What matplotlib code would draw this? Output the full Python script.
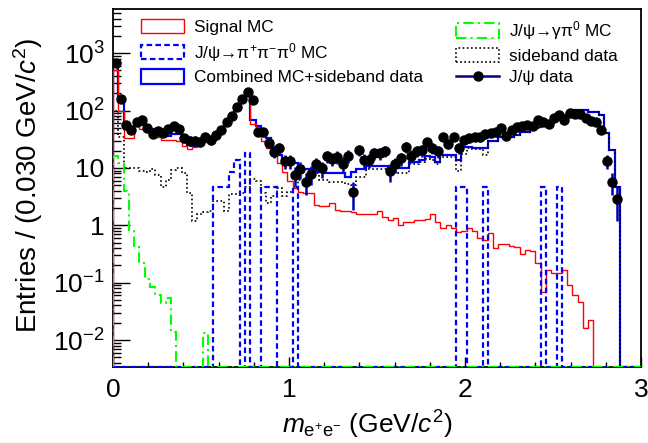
import numpy as np
import matplotlib
matplotlib.use('Agg')
import matplotlib.pyplot as plt
from matplotlib.patches import Patch
from matplotlib.lines import Line2D
from matplotlib.ticker import FixedLocator, FixedFormatter, LogLocator, MultipleLocator, NullFormatter

plt.rcParams['font.family'] = ['Liberation Sans', 'DejaVu Sans']
plt.rcParams['mathtext.fontset'] = 'custom'
plt.rcParams['mathtext.rm'] = 'Liberation Sans'
plt.rcParams['mathtext.it'] = 'Liberation Sans:italic'
plt.rcParams['mathtext.bf'] = 'Liberation Sans:bold'

# 100 bins of 0.030 GeV/c^2 from 0 to 3
edges = np.linspace(0.0, 3.0, 101)
centers = 0.5 * (edges[1:] + edges[:-1])

# J/psi data (bins 0..95)
data = [680, 158, 55, 46, 64, 68, 49, 39, 44, 41,
        47, 53, 47, 33, 30, 30, 28.5, 34, 30.5, 37,
        45, 63, 80, 116, 156, 212, 152, 42, 43, 27,
        19, 22, 13, 13, 7.5, 9.6, 5.7, 7.8, 11.5, 9.8,
        16, 14.5, 15.8, 11.8, 16.4, 3.8, 20.5, 13.5, 13.5, 17.9,
        18, 20, 8.7, 11.6, 14.6, 23.3, 16.2, 19.8, 20.2, 28.5,
        22.5, 19.5, 35, 26.5, 35, 22.5, 30.5, 33.5, 35, 34,
        39, 41, 42.6, 49, 36.5, 45, 52, 53, 55, 54,
        68, 64, 59, 73, 85, 68, 90, 87, 88, 73,
        67, 63, 45.5, 13, 5.7, 2.9]

signal_mc = [500, 100, 33, 33, 53, 47, 45, 40, 34, 31,
             30.5, 30.5, 29.5, 24, 21, 22.7, 25, 28.5, 30.5, 35,
             42, 55, 75, 105, 150, 205, 58, 40, 30, 22,
             17, 12, 8.5, 6, 4.5, 3.8, 3.7, 3.6, 2.3, 2.2,
             2.2, 2.4, 1.85, 1.75, 1.75, 1.7, 1.6, 1.55, 1.6, 1.55,
             1.75, 1.42, 1.26, 1.35, 1.0, 1.15, 1.15, 1.25, 1.25, 1.3,
             1.6, 1.15, 0.9, 1.0, 0.9, 0.75, 0.8, 0.9, 0.8, 0.6,
             0.55, 0.72, 0.4, 0.48, 0.48, 0.43, 0.42, 0.32, 0.37, 0.35,
             0.22, 0.07, 0.165, 0.145, 0.145, 0.165, 0.09, 0.061, 0.046, 0.016,
             0.022, 0, 0, 0, 0, 0, 0, 0, 0, 0]

pipipi0_mc = [0, 0, 0, 0, 0, 0, 0, 0, 0, 0,
              0, 0, 0, 0, 0, 0, 0, 0, 0, 4.7,
              4.7, 4.7, 8.6, 13.7, 0, 18, 0, 0, 4.7, 4.7,
              4.7, 0, 0, 0, 4.7, 0, 0, 0, 0, 0,
              0, 0, 0, 0, 0, 0, 0, 0, 0, 0,
              0, 0, 0, 0, 0, 0, 0, 0, 0, 0,
              0, 0, 0, 0, 0, 4.7, 4.7, 0, 0, 0,
              4.7, 0, 0, 0, 0, 0, 0, 0, 0, 0,
              0, 4.7, 0, 0, 4.7, 0, 0, 0, 0, 0,
              0, 0, 0, 0, 0, 0, 0, 0, 0, 0]

gammapi0_mc = [16, 12, 4, 0.83, 0.42, 0.22, 0.118, 0.085, 0.06, 0.045,
               0.055, 0.014, 0, 0, 0, 0, 0, 0.013, 0, 0] + [0] * 80

sideband = [100, 35, 9.8, 9.8, 9.8, 9.0, 8.6, 9.5, 7.5, 4.7,
            6.1, 9.2, 10, 8.2, 3.6, 1.2, 1.6, 1.7, 1.75, 2.7,
            2.6, 1.8, 3.5, 3.5, 3.6, 4.7, 6.5, 6.0, 3.6, 2.4,
            3.2, 4.4, 3.2, 3.8, 4.7, 6.1, 6.1, 8.0, 8.2, 6.1,
            6.1, 5.6, 5.6, 5.6, 5.2, 5.0, 7, 7, 9.5, 9.5,
            9.5, 9.5, 9, 9, 8.2, 8.2, 11.5, 11.5, 12.5, 14.5,
            14, 11.5, 15.5, 15.5, 15.5, 9, 17.5, 22, 21, 21,
            16.5, 29, 29.5, 34.5, 34.5, 34.5, 37.5, 41.5, 41.5, 48.5,
            50.5, 54, 63, 68, 75, 83, 85, 102, 102, 102,
            95, 95, 83, 40, 20.5, 4.7, 0, 0, 0, 0]

combined = [600, 142, 47, 42, 60, 55, 52, 47, 42, 37,
            36, 39, 39, 32, 25, 24, 27, 30.5, 33, 38,
            45, 57, 79, 110, 155, 210, 68, 53, 45, 33,
            23, 17, 14, 13, 12, 11, 9.5, 9.5, 9, 8.6,
            8.3, 8.3, 8.3, 8.3, 7.0, 8.6, 9.5, 9.5, 11, 11,
            11, 11, 10.5, 10, 10, 10, 12.8, 12.8, 14, 16,
            15.6, 12.8, 16.5, 16.5, 16.5, 13.7, 23, 23, 22, 22,
            22, 30, 30, 35, 35, 35, 38, 42, 42, 49,
            51, 59, 63, 68, 80, 83, 85, 102, 102, 102,
            95, 95, 83, 40, 20.5, 4.7, 0, 0, 0, 0]

ylo, yhi = 10 ** -2.47, 10 ** 3.77


def floor_at_axis(v):
    # empty bins are drawn along the lower frame, as ROOT does
    return np.clip(np.asarray(v, dtype=float), ylo, None)


fig = plt.figure(figsize=(6.48, 4.43), dpi=100)
ax = fig.add_axes([113 / 648, 1 - 367 / 443, 528 / 648, 358 / 443])
ax.set_yscale('log')
ax.set_xlim(0, 3)
ax.set_ylim(ylo, yhi)

dash = (0, (2.5, 1.5))
dashdot = (0, (5, 2, 1, 2))
dotted = (0, (1, 1.5))

ax.stairs(floor_at_axis(combined), edges, baseline=ylo, color='#0000ff', lw=1.6, zorder=3)
ax.stairs(floor_at_axis(sideband), edges, baseline=ylo, color='black', lw=1.2, ls=dotted, zorder=4)
ax.stairs(floor_at_axis(signal_mc), edges, baseline=ylo, color='#ff0000', lw=1.0, zorder=5)
ax.stairs(floor_at_axis(pipipi0_mc), edges, baseline=ylo, color='#0000ff', lw=1.6, ls=dash, zorder=6)
ax.stairs(floor_at_axis(gammapi0_mc), edges, baseline=ylo, color='#00ff00', lw=1.5, ls=dashdot, zorder=6)

data = np.array(data, dtype=float)
ax.errorbar(centers[:len(data)], data, yerr=np.sqrt(data), fmt='o', color='black',
            ms=6.5, ecolor='#0000b0', elinewidth=1.8, capsize=0, zorder=10)

# axes decoration, ROOT style
ax.xaxis.set_major_locator(FixedLocator([0, 1, 2, 3]))
ax.xaxis.set_major_formatter(FixedFormatter(['0', '1', '2', '3']))
ax.xaxis.set_minor_locator(MultipleLocator(0.2))
ax.yaxis.set_major_locator(FixedLocator([1e-2, 1e-1, 1, 10, 100, 1000]))
ax.yaxis.set_major_formatter(FixedFormatter([r'$\mathregular{10^{-2}}$', r'$\mathregular{10^{-1}}$',
                                             '1', '10', r'$\mathregular{10^{2}}$',
                                             r'$\mathregular{10^{3}}$']))
ax.yaxis.set_minor_locator(LogLocator(base=10, subs=np.arange(2, 10)))
ax.yaxis.set_minor_formatter(NullFormatter())
ax.tick_params(which='both', direction='in', top=False, right=False, labelsize=19, width=1.0)
ax.tick_params(axis='y', which='major', length=12, pad=6)
ax.tick_params(axis='y', which='minor', length=6)
ax.tick_params(axis='x', which='major', length=7.5, pad=8)
ax.tick_params(axis='x', which='minor', length=3.5)
for s in ax.spines.values():
    s.set_linewidth(1.3)

fig.text(28 / 648, 1 - 185 / 443, r'Entries / (0.030 GeV/$\mathit{c}^{2}$)', rotation=90,
         ha='center', va='center', fontsize=20)
fig.text(367 / 648, 1 - 425 / 443, r'$\mathit{m}_{\mathregular{e^{+}e^{-}}}$ (GeV/$\mathit{c}^{2}$)',
         ha='center', va='center', fontsize=19)

# legends (two columns, no frame)
h1 = [Patch(facecolor='none', edgecolor='#ff0000', lw=1.0),
      Patch(facecolor='none', edgecolor='#0000ff', lw=1.6, ls=dash),
      Patch(facecolor='none', edgecolor='#0000ff', lw=1.6)]
l1 = ['Signal MC', 'J/ψ→π$^{+}$π$^{-}$π$^{0}$ MC', 'Combined MC+sideband data']
h2 = [Patch(facecolor='none', edgecolor='#00ff00', lw=1.5, ls=dashdot),
      Patch(facecolor='none', edgecolor='black', lw=1.2, ls=dotted),
      Line2D([], [], color='#00008b', lw=1.8, marker='o', mfc='black', mec='black', ms=6.5)]
l2 = ['J/ψ→γπ$^{0}$ MC', 'sideband data', 'J/ψ data']

common = dict(frameon=False, fontsize=12.4, handlelength=2.5, handleheight=0.9,
              handletextpad=0.6, labelspacing=0.33, borderpad=0, borderaxespad=0,
              bbox_transform=fig.transFigure, loc='upper left')
leg1 = ax.legend(h1, l1, bbox_to_anchor=(141 / 648, 1 - 19 / 443), **common)
ax.add_artist(leg1)
ax.legend(h2, l2, bbox_to_anchor=(456 / 648, 1 - 19 / 443), **common)

fig.savefig('out.png', dpi=100)
